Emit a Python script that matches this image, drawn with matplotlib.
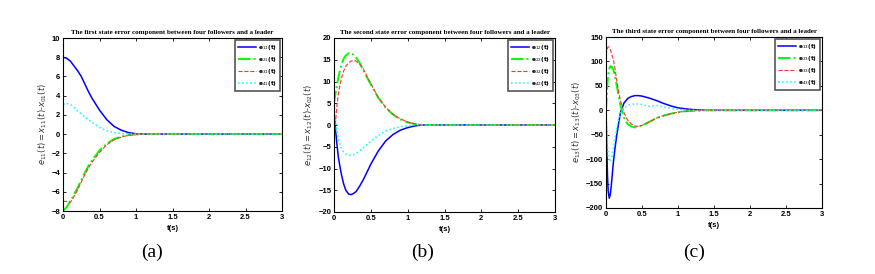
import matplotlib
matplotlib.use("Agg")
import matplotlib.pyplot as plt

# panel (a): first state error component
ta = [0, 0.05, 0.1, 0.15, 0.2, 0.25, 0.3, 0.35, 0.4, 0.5, 0.6, 0.7, 0.8, 0.9, 1.0, 1.1, 1.2, 1.5, 2.0, 2.5, 3.0]
e11 = [8.0, 7.9, 7.6, 7.1, 6.6, 6.0, 5.2, 4.4, 3.7, 2.5, 1.5, 0.8, 0.4, 0.15, 0.04, 0.0, 0.0, 0.0, 0.0, 0.0, 0.0]
e21 = [-8.0, -7.6, -7.0, -6.3, -5.6, -4.8, -4.0, -3.3, -2.7, -1.7, -1.0, -0.5, -0.25, -0.1, -0.03, 0.0, 0.0, 0.0, 0.0, 0.0, 0.0]
e31 = [-7.0, -7.0, -7.1, -6.5, -5.8, -5.0, -4.2, -3.5, -2.9, -1.9, -1.1, -0.6, -0.3, -0.12, -0.04, 0.0, 0.0, 0.0, 0.0, 0.0, 0.0]
e41 = [3.1, 3.2, 3.1, 2.8, 2.4, 2.1, 1.8, 1.5, 1.2, 0.7, 0.35, 0.15, 0.06, 0.02, 0.0, 0.0, 0.0, 0.0, 0.0, 0.0, 0.0]

# panel (b): second state error component
tb = [0, 0.02, 0.04, 0.06, 0.08, 0.1, 0.13, 0.16, 0.2, 0.23, 0.26, 0.3, 0.35, 0.4, 0.5, 0.6, 0.7, 0.8, 0.9, 1.0, 1.1, 1.2, 1.5, 2.0, 2.5, 3.0]
e12 = [2.7, -1.0, -4.5, -7.5, -9.5, -11.3, -13.5, -15.0, -15.9, -16.0, -15.8, -15.3, -14.0, -12.5, -9.0, -6.0, -3.7, -2.2, -1.2, -0.6, -0.2, 0.0, 0.0, 0.0, 0.0, 0.0]
e22 = [5.0, 7.2, 9.2, 11.0, 12.5, 13.8, 15.2, 16.0, 16.5, 16.5, 16.2, 15.5, 14.2, 12.5, 9.3, 6.3, 4.0, 2.4, 1.3, 0.6, 0.2, 0.0, 0.0, 0.0, 0.0, 0.0]
e32 = [-4.0, 0.5, 4.5, 7.3, 9.2, 10.7, 12.4, 13.5, 14.3, 14.7, 14.8, 14.7, 14.0, 12.8, 9.5, 6.4, 4.1, 2.5, 1.4, 0.7, 0.3, 0.0, 0.0, 0.0, 0.0, 0.0]
e42 = [5.0, 1.2, -1.5, -3.2, -4.4, -5.3, -6.2, -6.7, -6.9, -7.0, -6.9, -6.5, -5.9, -5.2, -3.7, -2.4, -1.4, -0.8, -0.4, -0.2, 0.0, 0.0, 0.0, 0.0, 0.0, 0.0]

# panel (c): third state error component
tc = [0, 0.01, 0.02, 0.03, 0.045, 0.06, 0.075, 0.1, 0.125, 0.15, 0.2, 0.25, 0.3, 0.35, 0.4, 0.45, 0.5, 0.6, 0.7, 0.8, 0.9, 1.0, 1.1, 1.2, 1.4, 1.5, 2.0, 2.5, 3.0]
e13 = [0.0, -70.0, -130.0, -165.0, -180.0, -172.0, -152.0, -110.0, -78.0, -50.0, -5.0, 15.0, 24.0, 28.0, 30.0, 30.0, 29.0, 25.0, 20.0, 14.0, 9.0, 5.0, 3.0, 1.5, 0.0, 0.0, 0.0, 0.0, 0.0]
e23 = [0.0, 30.0, 55.0, 72.0, 85.0, 90.0, 90.0, 84.0, 70.0, 50.0, 10.0, -15.0, -28.0, -33.0, -35.0, -34.0, -31.0, -24.0, -16.0, -11.0, -7.0, -4.0, -2.0, -1.0, 0.0, 0.0, 0.0, 0.0, 0.0]
e33 = [113.0, 122.0, 127.0, 130.0, 129.0, 124.0, 117.0, 105.0, 85.0, 60.0, 20.0, -5.0, -20.0, -28.0, -32.0, -33.0, -31.0, -24.0, -16.0, -11.0, -7.0, -4.0, -2.0, -1.0, 0.0, 0.0, 0.0, 0.0, 0.0]
e43 = [0.0, -40.0, -72.0, -92.0, -103.0, -105.0, -100.0, -80.0, -58.0, -35.0, -5.0, 5.0, 10.0, 12.0, 13.0, 13.0, 12.0, 8.0, 10.0, 7.0, 4.0, 2.0, 1.0, 0.0, 0.0, 0.0, 0.0, 0.0, 0.0]

panels = [
    dict(t=ta, ys=[e11, e21, e31, e41], idx="1", ylim=(-8, 10), yticks=range(-8, 11, 2),
         title="The first state error component between four followers and a leader",
         rect=[63/875, 63/274, 219/875, 173/274], cap="(a)", capx=152/875),
    dict(t=tb, ys=[e12, e22, e32, e42], idx="2", ylim=(-20, 20), yticks=range(-20, 21, 5),
         title="The second state error component between four followers and a leader",
         rect=[334/875, 62/274, 221/875, 174/274], cap="(b)", capx=423/875),
    dict(t=tc, ys=[e13, e23, e33, e43], idx="3", ylim=(-200, 150), yticks=range(-200, 151, 50),
         title="The third state error component between four followers and a leader",
         rect=[606/875, 66/274, 216/875, 171/274], cap="(c)", capx=694/875),
]

styles = [
    dict(color="#0000ff", ls="-", lw=1.1),
    dict(color="#00ff00", ls="-.", lw=1.4),
    dict(color="#ff3333", ls="--", lw=0.8),
    dict(color="#00ffff", ls=":", lw=1.1),
]

serif = "Liberation Serif"
sans = "Liberation Sans"

fig = plt.figure(figsize=(8.75, 2.74), dpi=100)
for p in panels:
    ax = fig.add_axes(p["rect"])
    for k, (y, st) in enumerate(zip(p["ys"], styles)):
        lab = r"$\mathbf{e}_{%d%s}\mathbf{(t)}$" % (k + 1, p["idx"])
        ax.plot(p["t"], y, label=lab, **st)
    ax.set_xlim(0, 3)
    ax.set_ylim(*p["ylim"])
    ax.set_xticks([0, 0.5, 1, 1.5, 2, 2.5, 3])
    ax.set_xticklabels(["0", "0.5", "1", "1.5", "2", "2.5", "3"])
    ax.set_yticks(list(p["yticks"]))
    ax.tick_params(direction="in", top=True, right=True, length=2.5, width=0.6,
                   labelsize=5.5, pad=2)
    for lbl in ax.get_xticklabels() + ax.get_yticklabels():
        lbl.set_fontfamily(sans)
        lbl.set_fontweight("bold")
    for s in ax.spines.values():
        s.set_linewidth(0.8)
    ax.set_title(p["title"], fontsize=5.0, fontweight="bold", family=serif, pad=3)
    ax.set_xlabel("t(s)", fontsize=5.5, fontweight="bold", family=sans, labelpad=3)
    i = p["idx"]
    ax.set_ylabel(r"$e_{1%s}(t)=x_{1%s}(t)$-$x_{0%s}(t)$" % (i, i, i), fontsize=6,
                  family=serif, color="#333333", labelpad=2)
    leg = ax.legend(loc="upper right", fontsize=4.2, handlelength=3.2, handletextpad=0.3,
                    borderpad=0.45, labelspacing=0.55, fancybox=False, framealpha=1,
                    borderaxespad=0.35)
    leg.get_frame().set_edgecolor("#555555")
    leg.get_frame().set_linewidth(1.2)
    fig.text(p["capx"], 0.08, p["cap"], ha="center", va="center", fontsize=14, family=serif)

fig.savefig("out.png", dpi=100)
